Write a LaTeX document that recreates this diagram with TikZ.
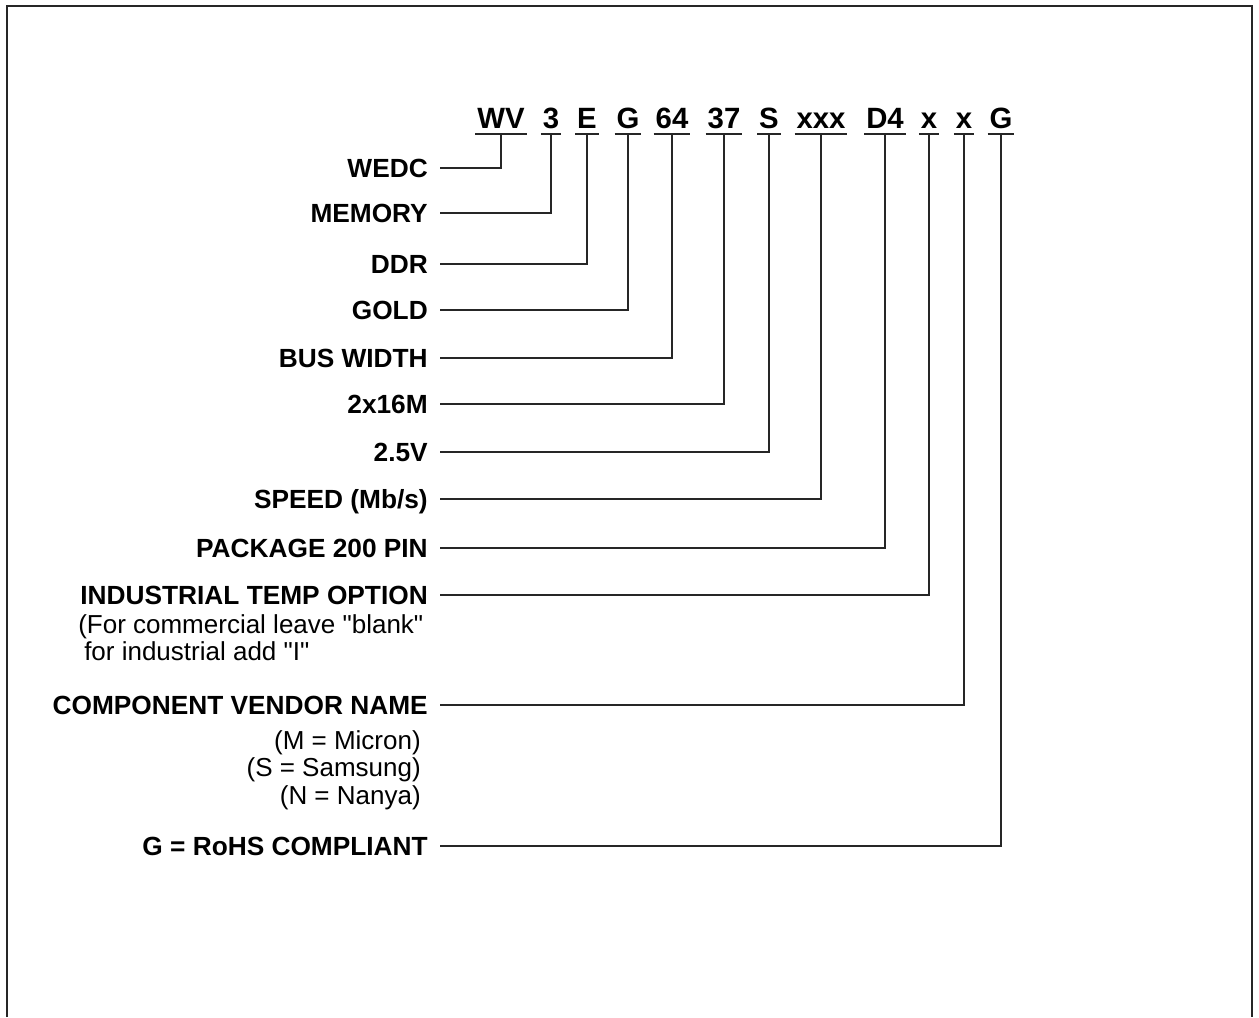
\documentclass[tikz,border=0pt]{standalone}
\usepackage{fontspec}
\newfontfamily\arialf{Liberation Sans}
\begin{document}
\begin{tikzpicture}[x=0.75pt,y=-0.75pt,
  code/.style={font=\arialf\fontsize{22}{24}\selectfont\bfseries, inner xsep=1.3pt, inner ysep=0pt,
    text height=15.8pt, text depth=4.3pt, anchor=base},
  lab/.style={font=\arialf\fontsize{19.7}{22}\selectfont\bfseries, inner sep=0pt,
    text height=14.1pt, text depth=0pt, anchor=east},
  note/.style={font=\arialf\fontsize{19.5}{22}\selectfont, inner sep=0pt},
  conn/.style={line width=1.1pt, draw=black!85},
  uline/.style={line width=1.1pt, draw=black!85}]
\useasboundingbox (0,0) rectangle (1259,1017);
% frame (open at bottom)
\draw[line width=1.5pt, black!85] (7,1017) -- (7,6) -- (1252,6) -- (1252,1017);

% code letters
\node[code] (cWV)  at (501,128) {WV};
\node[code] (c3)   at (551,128) {3};
\node[code] (cE)   at (587,128) {E};
\node[code] (cG)   at (628,128) {G};
\node[code] (c64)  at (672,128) {64};
\node[code] (c37)  at (724,128) {37};
\node[code] (cS)   at (769,128) {S};
\node[code] (cxxx) at (821,128) {xxx};
\node[code] (cD4)  at (885,128) {D4};
\node[code] (cx1)  at (929,128) {x};
\node[code] (cx2)  at (964,128) {x};
\node[code] (cG2)  at (1001,128) {G};
\foreach \n in {cWV,c3,cE,cG,c64,c37,cS,cxxx,cD4,cx1,cx2,cG2}
  \draw[uline] (\n.south west) -- (\n.south east);

% labels
\node[lab] (lWEDC) at (428,168) {WEDC};
\node[lab] (lMEM)  at (428,213) {MEMORY};
\node[lab] (lDDR)  at (428,264) {DDR};
\node[lab] (lGOLD) at (428,310) {GOLD};
\node[lab] (lBUS)  at (428,358) {BUS WIDTH};
\node[lab] (l2x)   at (428,404) {2x16M};
\node[lab] (l25)   at (428,452) {2.5V};
\node[lab] (lSPD)  at (428,499) {SPEED (Mb/s)};
\node[lab] (lPKG)  at (428,548) {PACKAGE 200 PIN};
\node[lab] (lIND)  at (428,595) {INDUSTRIAL TEMP OPTION};
\node[lab] (lCOMP) at (428,705) {COMPONENT VENDOR NAME};
\node[lab] (lROHS) at (428,846) {G = RoHS COMPLIANT};

% notes
\node[note, anchor=base west] (n1) at (78,633) {(For commercial leave "blank"};
\node[note, anchor=base west] (n2) at (84,660) {for industrial add "I"};
\node[note, anchor=base east] (v1) at (421,749) {(M = Micron)};
\node[note, anchor=base east] (v2) at (421,776) {(S = Samsung)};
\node[note, anchor=base east] (v3) at (421,804) {(N = Nanya)};

% connectors
\foreach \l/\c in {lWEDC/cWV,lMEM/c3,lDDR/cE,lGOLD/cG,lBUS/c64,l2x/c37,l25/cS,lSPD/cxxx,lPKG/cD4,lIND/cx1,lCOMP/cx2,lROHS/cG2}
  \draw[conn] ([xshift=9pt]\l.east) -| (\c.south);
\end{tikzpicture}
\end{document}
